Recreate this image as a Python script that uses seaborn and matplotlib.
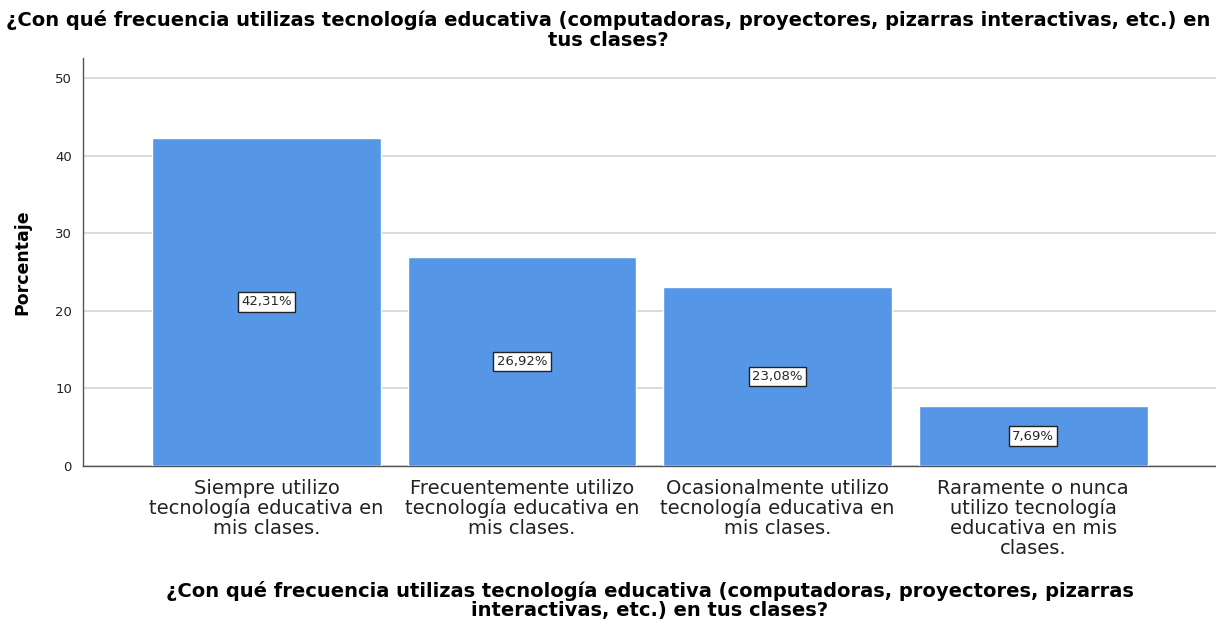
import matplotlib
matplotlib.use('Agg')
import matplotlib.pyplot as plt
import seaborn as sns
import pandas as pd

categorias = [
    'Siempre utilizo\ntecnología educativa en\nmis clases.',
    'Frecuentemente utilizo\ntecnología educativa en\nmis clases.',
    'Ocasionalmente utilizo\ntecnología educativa en\nmis clases.',
    'Raramente o nunca\nutilizo tecnología\neducativa en mis\nclases.',
]
porcentajes = [42.31, 26.92, 23.08, 7.69]
etiquetas = ['42,31%', '26,92%', '23,08%', '7,69%']
yticks = [0, 10, 20, 30, 40, 50]

pregunta = '¿Con qué frecuencia utilizas tecnología educativa (computadoras, proyectores, pizarras interactivas, etc.) en\ntus clases?'
pregunta_x = '¿Con qué frecuencia utilizas tecnología educativa (computadoras, proyectores, pizarras\ninteractivas, etc.) en tus clases?'

df = pd.DataFrame({'cat': categorias, 'pct': porcentajes})

sns.set_style('white')
plt.rcParams['font.family'] = ['DejaVu Sans']

fig = plt.figure(figsize=(12.16, 6.22), dpi=100)
ax = fig.add_axes([0.0683, 0.2508, 0.9317, 0.656])

sns.barplot(data=df, x='cat', y='pct', color='#5596e6', saturation=1, width=0.896, ax=ax, zorder=3)

ax.set_xlim(-0.718, 3.716)
ax.set_ylim(0, 52.6)
ax.set_yticks(yticks)
ax.yaxis.grid(True, color='#d4d4d4', linewidth=1.2, zorder=0)
ax.set_axisbelow(True)

for s in ['top', 'right']:
    ax.spines[s].set_visible(False)
for s in ['left', 'bottom']:
    ax.spines[s].set_color('#555555')
    ax.spines[s].set_linewidth(1.0)

ax.tick_params(axis='both', length=0)
ax.tick_params(axis='y', labelsize=9.5, labelcolor='#222222', pad=8)
ax.tick_params(axis='x', labelsize=14, labelcolor='#222222', pad=9)
for lbl in ax.get_xticklabels():
    lbl.set_linespacing(1.06)

ax.bar_label(ax.containers[0], labels=etiquetas, label_type='center', fontsize=9.5,
             bbox=dict(boxstyle='square,pad=0.25', facecolor='white', edgecolor='#222222', linewidth=1.0))

ax.set_ylabel('Porcentaje', fontsize=12.5, fontweight='bold', color='black')
ax.yaxis.set_label_coords(-0.046, 0.5)
ax.set_xlabel(pregunta_x, fontsize=14, fontweight='bold', linespacing=0.95, color='black')
ax.xaxis.set_label_coords(0.5, -0.283)

fig.text(0.5, 1 - 10 / 622, pregunta, ha='center', va='top', fontsize=14, fontweight='bold',
         linespacing=1.05, color='black')

fig.savefig('out.png', dpi=100)
